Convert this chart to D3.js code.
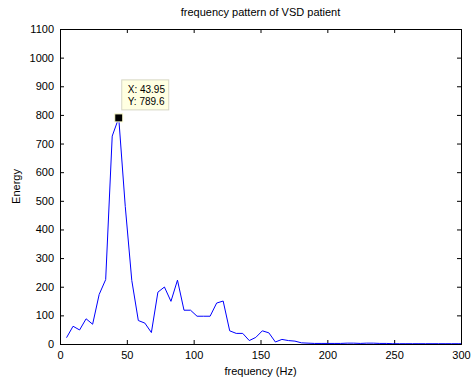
<!DOCTYPE html>
<html>
<head>
<meta charset="utf-8">
<script src="https://cdn.jsdelivr.net/npm/d3@7"></script>
<style>
  body { margin: 0; background: #fff; }
  svg text { font-family: "Liberation Sans", Arial, sans-serif; fill: #000; }
</style>
</head>
<body>
<div id="chart"></div>
<script>
// spectrum bins (Hz) and energy
const freqs = [4.88, 9.77, 14.65, 19.53, 24.41, 29.30, 34.18, 39.06, 43.95, 48.83,
  53.71, 58.59, 63.48, 68.36, 73.24, 78.13, 83.01, 87.89, 92.77, 97.66,
  102.54, 107.42, 112.30, 117.19, 122.07, 126.95, 131.84, 136.72, 141.60, 146.48,
  151.37, 156.25, 161.13, 166.02, 170.90, 175.78, 180.66, 185.55, 190.43, 195.31,
  200.20, 205.08, 209.96, 214.84, 219.73, 224.61, 229.49, 234.38, 239.26, 244.14,
  249.02, 253.91, 258.79, 263.67, 268.55, 273.44, 278.32, 283.20, 288.09, 292.97,
  297.85, 302.73];
const energy = [22, 62, 49, 88, 69, 173, 225, 726, 789.6, 480,
  222, 82, 73, 40, 181, 199, 149, 223, 118, 118,
  97, 97, 97, 143, 150, 46, 37, 37, 12, 23,
  46, 39, 7, 16, 12, 10, 4, 3, 2, 2,
  2, 2, 2, 3, 3, 2, 3, 3, 2, 2,
  1, 1, 1, 1, 1, 1, 1, 1, 1, 1,
  1, 1];
const xTicks = [0, 50, 100, 150, 200, 250, 300];
const yTicks = [0, 100, 200, 300, 400, 500, 600, 700, 800, 900, 1000, 1100];
const marked = { x: 43.95, y: 789.6 };

(function () {
  const width = 474, height = 380;
  const m = { left: 60, right: 461, top: 29, bottom: 344 };

  const svg = d3.select('#chart').append('svg')
    .attr('width', width)
    .attr('height', height);

  const x = d3.scaleLinear().domain([0, 300]).range([m.left, m.right]);
  const y = d3.scaleLinear().domain([0, 1100]).range([m.bottom, m.top]);

  svg.append('defs').append('clipPath').attr('id', 'plot')
    .append('rect')
      .attr('x', m.left).attr('y', m.top)
      .attr('width', m.right - m.left).attr('height', m.bottom - m.top);

  // axes, ticks pointing inward, box on all four sides
  svg.append('g').attr('transform', `translate(0,${m.bottom})`)
    .call(d3.axisBottom(x).tickValues(xTicks).tickSize(-4).tickPadding(7).tickFormat(d3.format('d')));
  svg.append('g').attr('transform', `translate(0,${m.top})`)
    .call(d3.axisTop(x).tickValues(xTicks).tickSize(-4).tickFormat(''));
  svg.append('g').attr('transform', `translate(${m.left},0)`)
    .call(d3.axisLeft(y).tickValues(yTicks).tickSize(-4).tickPadding(6).tickFormat(d3.format('d')));
  svg.append('g').attr('transform', `translate(${m.right},0)`)
    .call(d3.axisRight(y).tickValues(yTicks).tickSize(-4).tickFormat(''));
  svg.selectAll('.tick text').attr('font-size', 11).attr('font-family', '"Liberation Sans", Arial, sans-serif');
  svg.selectAll('.domain').attr('stroke', '#000').attr('stroke-width', 1);

  // the spectrum
  const line = d3.line()
    .x((d, i) => x(freqs[i]))
    .y(d => y(d));
  svg.append('path')
    .datum(energy)
    .attr('clip-path', 'url(#plot)')
    .attr('fill', 'none')
    .attr('stroke', '#0000ff')
    .attr('stroke-width', 1)
    .attr('d', line);

  // data cursor
  const mx = x(marked.x), my = y(marked.y);
  svg.append('rect')
    .attr('x', mx - 4).attr('y', my - 4)
    .attr('width', 8).attr('height', 8)
    .attr('fill', '#000')
    .attr('stroke', '#ffffd0').attr('stroke-width', 1);
  const tip = svg.append('g').attr('transform', `translate(${mx + 3},${my - 38})`);
  tip.append('rect')
    .attr('width', 47).attr('height', 30)
    .attr('fill', '#ffffe1')
    .attr('stroke', '#d6d6c4');
  tip.append('text').attr('x', 6).attr('y', 13).attr('font-size', 10)
    .text(`X: ${marked.x}`);
  tip.append('text').attr('x', 6).attr('y', 25).attr('font-size', 10)
    .text(`Y: ${marked.y}`);

  // labels
  svg.append('text')
    .attr('x', (m.left + m.right) / 2).attr('y', 16)
    .attr('text-anchor', 'middle').attr('font-size', 11)
    .text('frequency pattern of VSD patient');
  svg.append('text')
    .attr('x', (m.left + m.right) / 2).attr('y', 375)
    .attr('text-anchor', 'middle').attr('font-size', 11)
    .text('frequency (Hz)');
  svg.append('text')
    .attr('transform', `translate(20,${(m.top + m.bottom) / 2}) rotate(-90)`)
    .attr('text-anchor', 'middle').attr('font-size', 11)
    .text('Energy');
})();
</script>
</body>
</html>
